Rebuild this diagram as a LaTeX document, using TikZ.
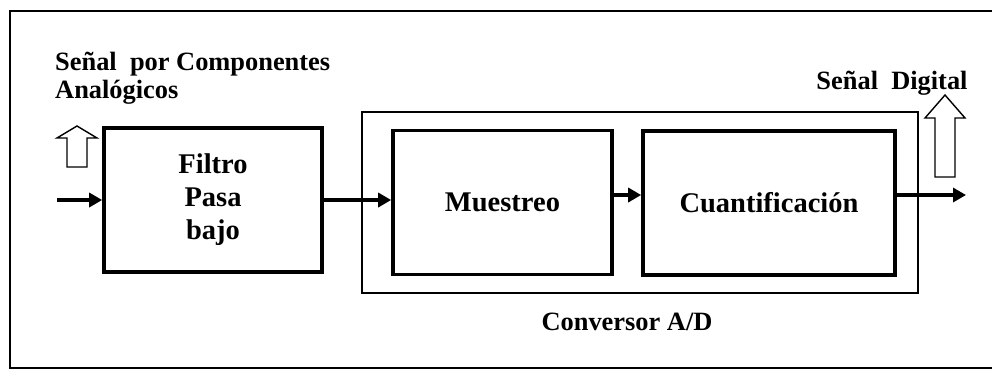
\documentclass[tikz,border=0pt]{standalone}
\usepackage{fontspec}
\setmainfont{Liberation Serif}
\usetikzlibrary{arrows.meta,positioning}

\begin{document}
\begin{tikzpicture}[
			x = 1pt, y = -1pt,
			block/.style = {draw, line width=3.6pt, minimum width=#1, minimum height=144pt,
				font=\fontsize{28.5}{33}\selectfont\bfseries, align=center},
			lbl/.style = {font=\fontsize{26.4}{28}\selectfont\bfseries, inner sep=0pt},
			flow/.style = {line width=3.8pt, -{Triangle[length=13pt,width=14pt]}},
			hollow/.style = {draw, line width=1.4pt, line join=miter, fill=white}
			]

			\useasboundingbox (0,0) rectangle (992,373);
			\draw[line width=2pt] (992,11) -- (10,11) -- (10,368) -- (992,368);

			% bloques
			\node[block=218pt] (filtro) at (213,200) {Filtro\\Pasa\\bajo};
			\node[draw, line width=1.8pt, minimum width=556pt, minimum height=181pt] (ad) at (640,202.5) {};
			\node[block=219pt] (muestreo) at (502.5,202.5) {Muestreo};
			\node[block=252pt] (cuant) at (769,203) {Cuantificación};

			% textos
			\node[lbl, anchor=base west, align=left] (entrada) at (55,98) {Señal~ por Componentes\\Analógicos};
			\node[lbl, anchor=base] (salida) at (892,89) {Señal~ Digital};
			\node[lbl, anchor=base] (conv) at (627,330) {Conversor A/D};

			% flechas huecas
			\draw[hollow, shift={(77,126)}] (0,0) -- (20,12) -- (10,12) -- (10,41) -- (-10,41) -- (-10,12) -- (-20,12) -- cycle;
			\draw[hollow, shift={(945,95)}] (0,0) -- (20,23) -- (10,23) -- (10,82) -- (-10,82) -- (-10,23) -- (-20,23) -- cycle;

			% conexiones
			\coordinate (in) at (57,200);
			\coordinate (out) at (966,195);
			\draw[flow] (in) -- (filtro.west);
			\draw[flow] (filtro.east) -- (filtro.east -| muestreo.west);
			\draw[flow] (out -| muestreo.east) -- (out -| cuant.west);
			\draw[flow] (out -| cuant.east) -- (out);

		\end{tikzpicture}
\end{document}
